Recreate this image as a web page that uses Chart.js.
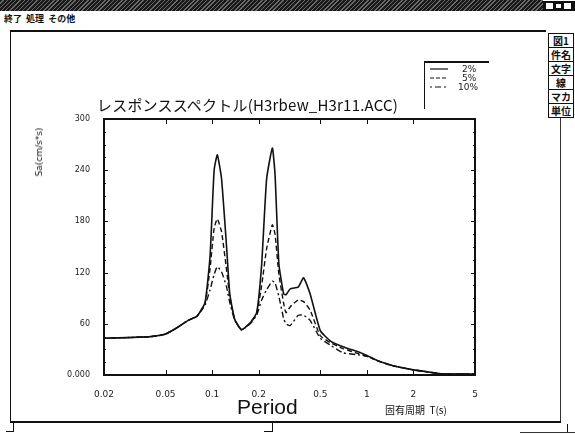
<!DOCTYPE html>
<html>
<head>
<meta charset="utf-8">
<script src="https://cdn.jsdelivr.net/npm/chart.js@4.4.1/dist/chart.umd.min.js"></script>
<style>
  html,body{margin:0;padding:0;background:#fff;width:575px;height:435px;overflow:hidden;font-family:'DejaVu Sans',sans-serif;color:#111}
  #wrap{position:relative;width:575px;height:435px}
  #chart{position:absolute;left:0;top:0}
  .abs{position:absolute;white-space:nowrap}
  .btn{position:absolute;left:548px;width:24px;height:13px;border:1px solid #111;font:bold 10px 'Noto Sans CJK JP';line-height:13px;text-align:center;background:#fff}
</style>
</head>
<body>
<div id="wrap">
  <!-- window chrome -->
  <div class="abs" style="left:0;top:0;width:543px;height:11px;background:repeating-linear-gradient(135deg,#1a1a1a 0 2px,#6a6a6a 2px 3px)"></div>
  <div class="abs" style="left:543px;top:1px;width:32px;height:10px;background:#111"></div>
  <div class="abs" style="left:546px;top:3px;width:7px;height:6px;background:#fff"></div>
  <div class="abs" style="left:555px;top:3px;width:7px;height:6px;background:#fff;border:1px solid #111;box-sizing:border-box"></div>
  <div class="abs" style="left:564px;top:3px;width:7px;height:6px;background:#fff"></div>
  <div class="abs" style="left:4px;top:12px;font:bold 9px 'Noto Sans CJK JP'">終了&nbsp;&nbsp;処理&nbsp;&nbsp;その他</div>
  <div class="abs" style="left:10px;top:30px;width:536px;height:2px;background:#111"></div>
  <div class="abs" style="left:10px;top:31px;width:1px;height:391px;background:#111"></div>
  <div class="abs" style="left:560px;top:117px;width:1px;height:305px;background:#333"></div>
  <div class="abs" style="left:10px;top:421px;width:551px;height:2px;background:#111"></div>
  <div class="abs" style="left:13px;top:423px;width:1px;height:9px;background:#111"></div>
  <div class="abs" style="left:6px;top:431px;width:8px;height:1px;background:#111"></div>
  <div class="abs" style="left:272px;top:423px;width:1px;height:9px;background:#111"></div>
  <div class="abs" style="left:264px;top:431px;width:9px;height:1px;background:#111"></div>
  <div class="abs" style="left:567px;top:424px;width:1px;height:8px;background:#111"></div>
  <div class="abs" style="left:520px;top:432px;width:55px;height:1px;background:#333"></div>
  <div class="btn" style="top:33px">図1</div>
  <div class="btn" style="top:47px">件名</div>
  <div class="btn" style="top:61px">文字</div>
  <div class="btn" style="top:75px">線</div>
  <div class="btn" style="top:89px">マカ</div>
  <div class="btn" style="top:103px">単位</div>

  <canvas id="chart" width="575" height="435"></canvas>

  <!-- texts -->
  <div class="abs" style="left:97px;top:94px;font:15px 'Noto Sans CJK JP';letter-spacing:0.2px">レスポンススペクトル(H3rbew_H3r11.ACC)</div>
  <div class="abs" style="left:39px;top:152px;transform:translate(-50%,-50%) rotate(-90deg);font:9px 'DejaVu Sans';color:#111">Sa(cm/s*s)</div>
  <div class="abs" style="left:237px;top:395px;font:21px 'Liberation Sans'">Period</div>
  <div class="abs" style="left:385px;top:402px;font:10px 'Noto Sans CJK JP'">固有周期&nbsp;&nbsp;T(s)</div>

  <!-- legend -->
  <div class="abs" style="left:424px;top:61px;width:64px;height:46px;border-left:1px solid #111;border-top:2px solid #111"></div>
  <svg class="abs" style="left:428px;top:63px" width="60" height="34">
    <line x1="2" y1="6" x2="20" y2="6" stroke="#111" stroke-width="1.2"/>
    <line x1="2" y1="15" x2="20" y2="15" stroke="#111" stroke-width="1.2" stroke-dasharray="4 2"/>
    <line x1="2" y1="24" x2="20" y2="24" stroke="#111" stroke-width="1.2" stroke-dasharray="2 3 6 3"/>
    <text x="34" y="9" font-family="DejaVu Sans" font-size="9" fill="#222">2%</text>
    <text x="34" y="18" font-family="DejaVu Sans" font-size="9" fill="#222">5%</text>
    <text x="30" y="27" font-family="DejaVu Sans" font-size="9" fill="#222">10%</text>
  </svg>
</div>
<script>
// periods (s)
const periods = [0.02, 0.03, 0.04, 0.05, 0.06, 0.07, 0.08, 0.09, 0.097, 0.103, 0.108, 0.115, 0.124, 0.13, 0.14, 0.155,
                 0.176, 0.194, 0.209, 0.225, 0.245, 0.255, 0.27, 0.29, 0.30, 0.32, 0.36, 0.39, 0.43, 0.5, 0.58, 0.7,
                 0.85, 1.0, 1.2, 1.5, 2.0, 2.5, 3.0, 4.0, 5.0];
// Sa (cm/s*s) per damping
const sa2  = [43, 44, 45, 48, 56, 64, 69, 85, 140, 240, 258, 230, 150, 95, 65, 53,
              61, 73, 130, 230, 266, 235, 130, 95, 94, 101, 103, 114, 95, 52, 40, 33,
              28, 23, 16, 10.5, 6, 3.5, 1.5, 1.2, 1.2];
const sa5  = [43, 44, 45, 48, 56, 64, 69, 84, 125, 172, 183, 168, 123, 92, 65, 53,
              61, 72, 105, 148, 176, 165, 118, 84, 73, 80, 88, 86, 76, 46, 38, 31,
              26, 22, 16, 10.5, 6, 3.5, 1.5, 1.2, 1.2];
const sa10 = [43, 44, 45, 48, 56, 64, 69, 82, 100, 118, 127, 121, 103, 85, 64, 53,
              60, 70, 88, 100, 110, 108, 92, 66, 60, 58, 70, 70, 64, 43, 35, 26,
              24, 22, 16, 10.5, 6, 3.5, 1.5, 1.2, 1.2];

const xTicks  = [0.02, 0.05, 0.1, 0.2, 0.5, 1, 2, 5];
const xLabels = ['0.02', '0.05', '0.1', '0.2', '0.5', '1', '2', '5'];
const yMajor  = [0, 60, 120, 180, 240, 300];
const yLabels = ['0.000', '60', '120', '180', '240', '300'];

const pts = arr => periods.map((p, i) => ({ x: p, y: arr[i] }));

// frame + inward tick marks, like the old plotting program
const framePlugin = {
  id: 'frame',
  afterDraw(chart) {
    const { ctx, chartArea: a, scales: { x, y } } = chart;
    ctx.save();
    ctx.strokeStyle = '#111';
    ctx.lineWidth = 2;
    ctx.strokeRect(a.left, a.top, a.right - a.left, a.bottom - a.top);
    ctx.lineWidth = 1;
    ctx.beginPath();
    xTicks.forEach(v => {
      const px = Math.round(x.getPixelForValue(v)) + 0.5;
      ctx.moveTo(px, a.bottom); ctx.lineTo(px, a.bottom - 5);
      ctx.moveTo(px, a.top);    ctx.lineTo(px, a.top + 5);
    });
    y.ticks.forEach(t => {
      const py = Math.round(y.getPixelForValue(t.value)) + 0.5;
      const len = t.value % 60 === 0 ? 4 : 2;
      ctx.moveTo(a.left, py);  ctx.lineTo(a.left + len, py);
      ctx.moveTo(a.right, py); ctx.lineTo(a.right - len, py);
    });
    ctx.stroke();
    ctx.restore();
  }
};

new Chart(document.getElementById('chart'), {
  type: 'line',
  data: {
    datasets: [
      { label: '2%',  data: pts(sa2),  borderColor: '#111', borderWidth: 1.6, pointRadius: 0, tension: 0.15 },
      { label: '5%',  data: pts(sa5),  borderColor: '#111', borderWidth: 1.4, borderDash: [5, 3], pointRadius: 0, tension: 0.15 },
      { label: '10%', data: pts(sa10), borderColor: '#111', borderWidth: 1.4, borderDash: [2, 3, 6, 3], pointRadius: 0, tension: 0.15 },
    ]
  },
  options: {
    responsive: false, animation: false,
    layout: { padding: { left: 54, right: 100, top: 119, bottom: 30 } },
    plugins: { legend: { display: false }, title: { display: false }, tooltip: { enabled: false } },
    scales: {
      x: {
        type: 'logarithmic', min: 0.02, max: 5,
        afterBuildTicks: s => { s.ticks = xTicks.map(v => ({ value: v })); },
        afterFit: s => { s.height = 30; },
        grid: { display: false }, border: { display: false },
        ticks: { autoSkip: false, maxRotation: 0, color: '#222', padding: 6, font: { family: 'DejaVu Sans', size: 9 },
                 callback: v => xLabels[xTicks.indexOf(v)] ?? '' }
      },
      y: {
        min: 0, max: 300,
        afterBuildTicks: s => { s.ticks = Array.from({ length: 21 }, (_, i) => ({ value: i * 15 })); },
        afterFit: s => { s.width = 50; },
        grid: { display: false }, border: { display: false },
        ticks: { autoSkip: false, color: '#222', padding: 6, font: { family: 'DejaVu Sans', size: 8 },
                 callback: v => { const i = yMajor.indexOf(v); return i < 0 ? '' : yLabels[i]; } }
      }
    }
  },
  plugins: [framePlugin]
});
</script>
</body>
</html>
